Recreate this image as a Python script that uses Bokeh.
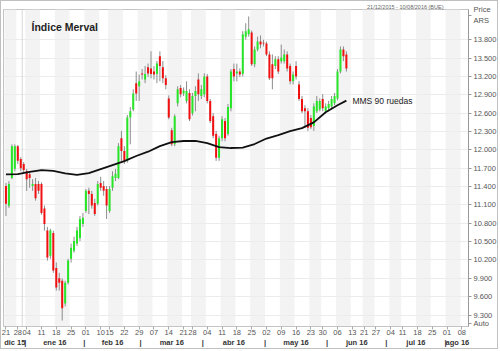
import pandas as pd
from bokeh.plotting import figure
from bokeh.models import (Range1d, LinearAxis, FixedTicker, BoxAnnotation,
                          Span, ColumnDataSource, Label)
from bokeh.embed import file_html
from bokeh.resources import INLINE
from bokeh.core.properties import value

# ---------------- data ----------------
chart_title = "Índice Merval"
period_text = "21/12/2015 - 10/08/2016 (BUE)"
ma_name = "MMS 90 ruedas"
unit_text = "Price\nARS"
auto_text = "Auto"
axis_start = "2015-12-21"
axis_end = "2016-08-10"
holidays = ["2015-12-25", "2015-12-31", "2016-01-01", "2016-02-08", "2016-02-09",
            "2016-03-24", "2016-03-25", "2016-05-25", "2016-06-17", "2016-06-20",
            "2016-07-08"]
months_es = ["ene", "feb", "mar", "abr", "may", "jun", "jul", "ago", "sep", "oct", "nov", "dic"]
y_ticks = [9300, 9600, 9900, 10200, 10500, 10800, 11100, 11400, 11700, 12000,
           12300, 12600, 12900, 13200, 13500, 13800]
unit_tick = 14200
auto_tick = 9160

opens = [11410, 11085, 11540, 11690, 12060, 11850, 11770, 11650, 11600, 11410,
         11440, 11440, 11440, 11040, 10680, 10270, 10640, 10070, 9900, 9860,
         9490, 9830, 10220, 10350, 10470, 10560, 10790, 11000, 11330, 11280,
         11130, 11120, 11460, 11410, 11360, 11000, 11380, 11540, 11540, 12190,
         11980, 11820, 12530, 12660, 13090, 13040, 13250, 13150, 13350, 13330,
         13280, 13240, 13530, 13350, 13170, 12840, 12320, 12090, 12760, 13010,
         12920, 12800, 12930, 12600, 12880, 13150, 12880, 12910, 13200, 12800,
         12550, 12260, 11870, 12190, 12470, 12260, 12680, 13320, 13250, 13280,
         13240, 13850, 13890, 13920, 13400, 13640, 13770, 13750, 13740, 13560,
         13400, 13370, 13480, 13450, 13450, 13560, 13370, 13120, 13370, 13070,
         12830, 12680, 12630, 12520, 12390, 12630, 12660, 12830, 12630, 12680,
         12710, 12760, 12840, 13280, 13640, 13560]
highs = [11460, 11490, 12090, 12090, 12080, 11880, 11800, 11690, 11650, 11520,
         11540, 11490, 11470, 11090, 10740, 10710, 10680, 10160, 9990, 9900,
         9860, 10220, 10470, 10580, 10740, 10920, 10970, 11360, 11380, 11330,
         11200, 11490, 11560, 11490, 11410, 11410, 11650, 11690, 12110, 12310,
         12060, 12570, 12700, 12990, 13280, 13230, 13320, 13370, 13410, 13610,
         13370, 13450, 13610, 13450, 13220, 12890, 12360, 12580, 13040, 13060,
         13020, 13120, 12990, 12930, 13040, 13250, 13060, 13250, 13240, 12830,
         12600, 12310, 12230, 12550, 12520, 12750, 13320, 13410, 13410, 13330,
         13940, 14070, 14180, 13950, 13690, 13850, 13870, 13800, 13770, 13610,
         13560, 13530, 13530, 13720, 13640, 13610, 13410, 13280, 13450, 13120,
         12880, 12730, 12680, 12570, 12760, 12880, 12840, 12910, 12760, 12800,
         12880, 12930, 13320, 13690, 13690, 13610]
lows = [10920, 11050, 11520, 11650, 11770, 11650, 11620, 11330, 11380, 11330,
        11170, 11280, 10940, 10680, 10190, 10220, 9990, 9700, 9700, 9210,
        9440, 9800, 10160, 10320, 10430, 10510, 10740, 10970, 10950, 11040,
        10920, 11090, 11330, 11250, 10870, 10970, 11330, 11490, 11520, 11820,
        11770, 11790, 12090, 12630, 12800, 12800, 13150, 13090, 13190, 13170,
        13150, 13090, 13120, 13090, 12990, 12500, 12060, 12060, 12710, 12860,
        12880, 12760, 12470, 12560, 12630, 12800, 12830, 12860, 12760, 12440,
        12190, 11820, 11820, 12140, 12140, 12230, 12630, 13120, 13120, 13190,
        13200, 13800, 13850, 13370, 13350, 13610, 13660, 13690, 13530, 13140,
        12990, 13320, 13240, 13410, 13410, 13280, 13070, 13070, 13150, 12800,
        12600, 12360, 12310, 12340, 12310, 12600, 12630, 12630, 12600, 12630,
        12660, 12730, 12810, 13250, 13450, 13280]
closes = [11120, 11440, 12060, 12060, 11820, 11700, 11670, 11520, 11540, 11440,
          11210, 11330, 10970, 10790, 10240, 10680, 10030, 9750, 9830, 9410,
          9830, 10190, 10400, 10510, 10680, 10870, 10890, 11330, 11280, 11090,
          10950, 11440, 11380, 11330, 11090, 11360, 11570, 11610, 12060, 11980,
          11820, 12530, 12630, 12920, 12920, 13120, 13230, 13240, 13250, 13240,
          13230, 13410, 13370, 13170, 13060, 12530, 12090, 12550, 12990, 12910,
          12970, 12960, 12500, 12880, 12960, 12910, 12990, 13200, 12800, 12470,
          12230, 11870, 12190, 12500, 12190, 12700, 13280, 13200, 13280, 13230,
          13890, 13940, 13970, 13400, 13640, 13770, 13720, 13740, 13560, 13170,
          13170, 13480, 13280, 13510, 13560, 13330, 13120, 13230, 13200, 12830,
          12630, 12630, 12360, 12370, 12710, 12800, 12800, 12680, 12710, 12750,
          12830, 12880, 13280, 13640, 13530, 13330]

ma_idx = [0, 4, 8, 12, 16, 20, 24, 28, 32, 36, 40, 44, 48, 52, 56, 60, 64, 68,
          72, 76, 80, 84, 88, 92, 96, 100, 104, 108, 112, 115]
ma_val = [11600, 11605, 11640, 11670, 11655, 11615, 11590, 11620, 11685, 11750,
          11815, 11900, 11970, 12060, 12125, 12145, 12145, 12110, 12045, 12030,
          12035, 12095, 12185, 12240, 12305, 12355, 12450, 12615, 12730, 12805]

# ---------------- trading-day axis ----------------
days = pd.bdate_range(axis_start, axis_end)
days = days[~days.isin(pd.to_datetime(holidays))]
n_axis = len(days)


def key(v):
    return int(v) if float(v).is_integer() else float(v)


week_first, week_last = [], []
prev = None
for i, d in enumerate(days):
    monday = d - pd.Timedelta(days=d.weekday())
    if monday != prev:
        week_first.append(i)
        week_last.append(i)
        prev = monday
    else:
        week_last[-1] = i

month_first, month_last, month_lab = [], [], []
prevm = None
for i, d in enumerate(days):
    mk = (d.year, d.month)
    if mk != prevm:
        month_first.append(i)
        month_last.append(i)
        month_lab.append(f"{months_es[d.month - 1]} {d.year % 100:02d}")
        prevm = mk
    else:
        month_last[-1] = i

first_new_year = [i for i, d in enumerate(days) if d.year == 2016][0]

# ---------------- figure ----------------
p = figure(width=498, height=349, output_backend="svg", toolbar_location=None,
           x_range=Range1d(-0.83, n_axis - 0.75), y_range=Range1d(9113, 14294),
           y_axis_location="right", min_border_left=2, min_border_top=7,
           min_border_right=27, min_border_bottom=24, title=period_text)
p.styles = {"border": "1px solid #c0c0c0"}
p.background_fill_color = "white"
p.border_fill_color = "white"
p.outline_line_color = "#c4c4c4"
p.title.align = "right"
p.title.text_font = "Liberation Sans"
p.title.text_font_size = "5.5px"
p.title.text_font_style = "normal"
p.title.text_color = "#666666"
p.title.standoff = 0
p.title.offset = 25
p.xgrid.visible = False
p.ygrid.ticker = FixedTicker(ticks=y_ticks)
p.ygrid.grid_line_color = "#ececec"

for k, (a, b) in enumerate(zip(week_first, week_last)):
    if k % 2 == 0:
        p.add_layout(BoxAnnotation(left=a - 0.5, right=b + 0.5, fill_color="#f3f3f3",
                                   fill_alpha=1, line_color=None, level="image"))
p.add_layout(Span(location=first_new_year - 1.5, dimension="height",
                  line_color="#d8d8d8", line_width=1, level="underlay"))

# candles
n = len(closes)
src = ColumnDataSource(dict(
    x=list(range(n)), h=highs, l=lows,
    top=[max(o, c) for o, c in zip(opens, closes)],
    bottom=[min(o, c) for o, c in zip(opens, closes)],
    color=["#27e527" if c >= o else "#f01010" for o, c in zip(opens, closes)]))
p.segment(x0="x", y0="l", x1="x", y1="h", source=src, line_color="#8c8c8c", line_width=1)
p.vbar(x="x", width=0.68, top="top", bottom="bottom", fill_color="color",
       line_color=None, source=src)

# moving average
p.line(ma_idx, ma_val, line_color="#111111", line_width=1.8)
p.text(x=[ma_idx[-1]], y=[ma_val[-1]], text=[ma_name], x_offset=6,
       text_baseline="middle", text_font=value("Liberation Sans"),
       text_font_size="8.5px", text_color="#222222")

# axes
ya = p.yaxis[0]
ya.ticker = FixedTicker(ticks=y_ticks + [unit_tick, auto_tick])
over = {t: f"{t:,}".replace(",", ".") for t in y_ticks}
over[unit_tick] = unit_text
over[auto_tick] = auto_text
ya.major_label_overrides = over
ya.major_label_text_font = "Liberation Sans"
ya.major_label_text_font_size = "7.5px"
ya.major_label_text_color = "#555555"
ya.major_tick_out = 3
ya.major_tick_in = 0
ya.minor_tick_line_color = None
ya.axis_line_color = "#999999"
ya.major_tick_line_color = "#999999"
ya.major_label_standoff = 2

xa = p.xaxis[0]
xa.ticker = FixedTicker(ticks=week_first)
xa.major_label_overrides = {i: f"{days[i].day:02d}" for i in week_first}
xa.major_label_text_font = "Liberation Sans"
xa.major_label_text_font_size = "7.5px"
xa.major_label_text_color = "#555555"
xa.major_tick_out = 3
xa.major_tick_in = 0
xa.minor_tick_line_color = None
xa.axis_line_color = "#c4c4c4"
xa.major_tick_line_color = "#aaaaaa"
xa.major_label_standoff = 0

m_ticks, m_over = [], {}
for j, (a, b, lab) in enumerate(zip(month_first, month_last, month_lab)):
    c = key((a + b) / 2)
    m_ticks.append(c)
    m_over[c] = lab
    if j > 0:
        s = key(a - 0.5)
        m_ticks.append(s)
        m_over[s] = "|"
ma2 = LinearAxis(ticker=FixedTicker(ticks=m_ticks), major_label_overrides=m_over)
ma2.major_label_text_font = "Liberation Sans"
ma2.major_label_text_font_size = "7.5px"
ma2.major_label_text_font_style = "bold"
ma2.major_label_text_color = "#333333"
ma2.axis_line_color = None
ma2.major_tick_line_color = None
ma2.minor_tick_line_color = None
ma2.major_tick_out = 0
ma2.major_tick_in = 0
ma2.major_label_standoff = 0
p.add_layout(ma2, "below")

# title inside the frame
p.add_layout(Label(x=28, y=300, x_units="screen", y_units="screen", text=chart_title,
                   text_font="Liberation Sans", text_font_size="10.5px",
                   text_font_style="bold", text_color="#222222", text_baseline="middle"))

open("out.html", "w").write(file_html(p, INLINE))
